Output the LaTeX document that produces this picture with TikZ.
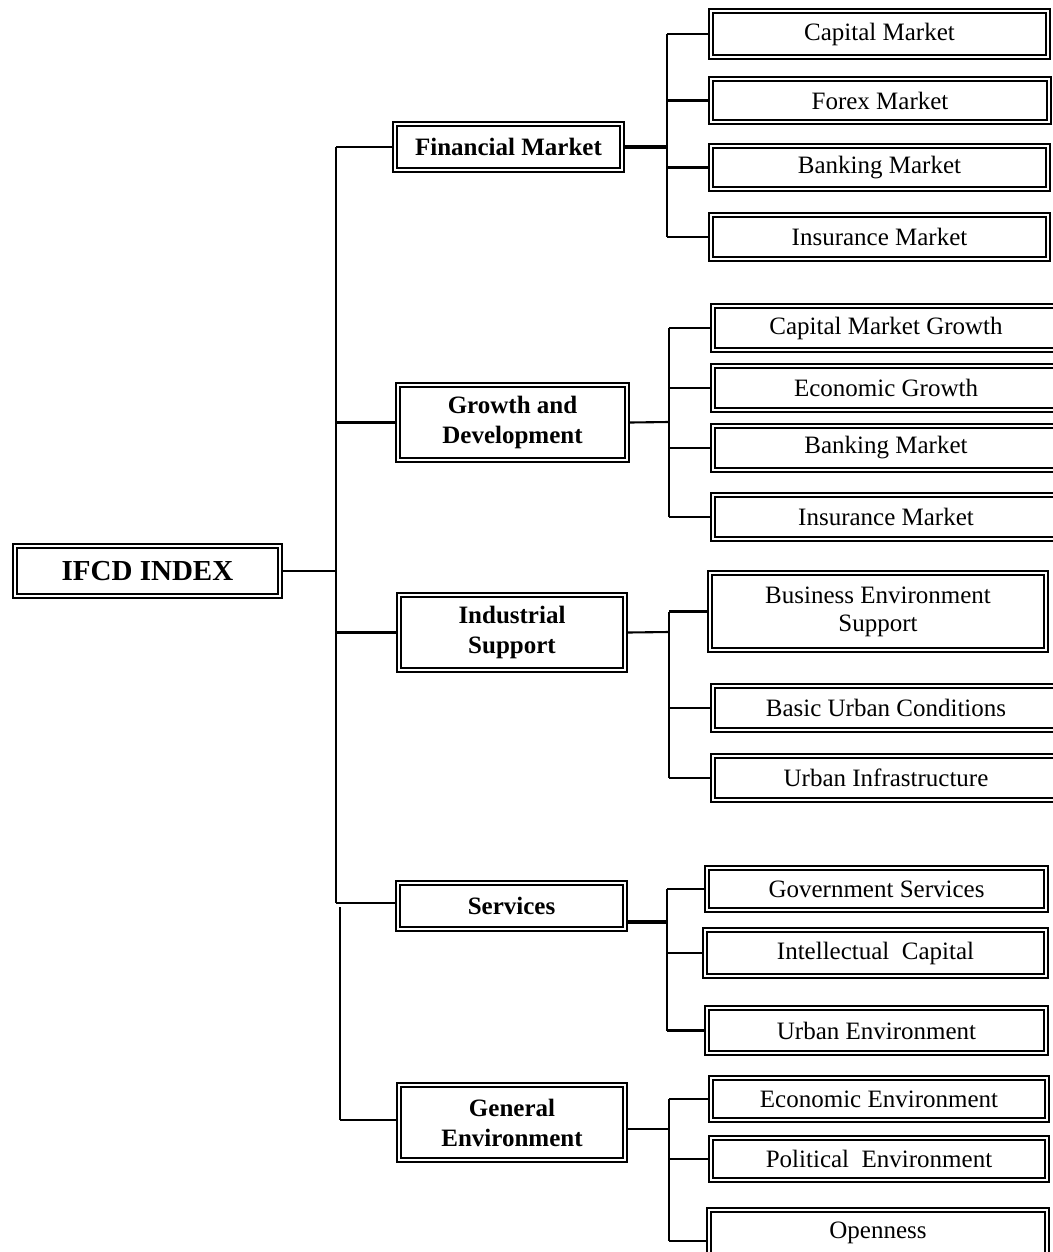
\documentclass[tikz,border=0pt]{standalone}
\usepackage{fontspec}
\setmainfont{Liberation Serif}
% boxed node given by its outer corners (x1,y1) and (x2,y2)
\newcommand{\dnode}[7]{%
  \node[#1, minimum width={(#5-#3)*0.5pt-1.2pt}, minimum height={(#6-#4)*0.5pt-1.2pt}]
    (#2) at ({(#3+#5)/2},{(#4+#6)/2}) {#7};}
\begin{document}
\begin{tikzpicture}[x=0.5pt,y=-0.5pt,
  dbox/.style={draw, line width=1.2pt, inner sep=0pt, align=center,
    path picture={\draw[line width=0.6pt]
      ([shift={(1.9pt,1.9pt)}]path picture bounding box.south west) rectangle
      ([shift={(-1.9pt,-1.9pt)}]path picture bounding box.north east);}},
  rootbox/.style={dbox, font=\fontsize{14.5}{17}\selectfont\bfseries},
  catbox/.style={dbox, font=\fontsize{12.5}{15}\selectfont\bfseries},
  itembox/.style={dbox, font=\fontsize{12.5}{14}\selectfont},
  link/.style={line width=1.05pt},
  heavy/.style={line width=1.6pt},
]
\useasboundingbox (0,0) rectangle (1053,1252);
\begin{scope}
\clip (0,0) rectangle (1053,1252);

% root and categories
\dnode{rootbox}{root}{12}{543}{283}{599}{IFCD INDEX}
\dnode{catbox}{fin}{392}{121}{625}{173}{Financial Market}
\dnode{catbox}{gro}{395}{382}{630}{463}{Growth and\\Development}
\dnode{catbox}{ind}{396}{592}{628}{673}{Industrial\\Support}
\dnode{catbox}{ser}{395}{880}{628}{932}{Services}
\dnode{catbox}{gen}{396}{1082}{628}{1163}{General\\Environment}

% financial market items
\dnode{itembox}{f1}{708}{8}{1051}{60}{Capital Market}
\dnode{itembox}{f2}{708}{76}{1052}{125}{Forex Market}
\dnode{itembox}{f3}{708}{143}{1051}{192}{Banking Market}
\dnode{itembox}{f4}{708}{212}{1051}{262}{Insurance Market}

% growth and development items
\dnode{itembox}{g1}{710}{303}{1062}{353}{Capital Market Growth}
\dnode{itembox}{g2}{710}{363}{1062}{413}{Economic Growth}
\dnode{itembox}{g3}{710}{423}{1062}{473}{Banking Market}
\dnode{itembox}{g4}{710}{492}{1062}{542}{Insurance Market}

% industrial support items
\dnode{itembox}{i1}{707}{570}{1049}{653}{Business Environment\\Support}
\dnode{itembox}{i2}{710}{683}{1062}{733}{Basic Urban Conditions}
\dnode{itembox}{i3}{710}{753}{1062}{803}{Urban Infrastructure}

% services items
\dnode{itembox}{s1}{704}{865}{1049}{913}{Government Services}
\dnode{itembox}{s2}{702}{927}{1049}{979}{Intellectual\ \ Capital}
\dnode{itembox}{s3}{704}{1005}{1049}{1056}{Urban Environment}

% general environment items
\dnode{itembox}{e1}{708}{1075}{1050}{1123}{Economic Environment}
\dnode{itembox}{e2}{708}{1135}{1050}{1183}{Political\ \ Environment}
\dnode{itembox}{e3}{706}{1207}{1050}{1258}{Openness}
\end{scope}

% trunk
\coordinate (t1) at (336,147);
\coordinate (t4) at (336,903);
\coordinate (t5a) at (340,907);
\coordinate (t5) at (340,1120);
\draw[link] (t1) -- (t4);
\draw[link] (t5a) -- (t5);
\draw[link] (root.east) -- (root.east -| t1);
\draw[link] (t1) -- (fin.west);
\draw[link] (gro.west -| t1) -- (gro.west);
\draw[link] (ind.west -| t1) -- (ind.west);
\draw[link] (t4) -- (ser.west |- t4);
\draw[link] (t5) -- (gen.west |- t5);

% branch junctions
\coordinate (bf) at (667,147);
\coordinate (bg) at (669,422);
\coordinate (bi) at (669,632);
\coordinate (bs) at (667,922);
\coordinate (be) at (669,1129);

% financial market branch
\draw[heavy] (fin.east) -- (bf);
\draw[link] (bf |- f1.west) -- (bf |- f4.west);
\foreach \c in {f1,f2,f3,f4} \draw[link] (bf |- \c.west) -- (\c.west);

% growth branch
\draw[link] (gro.east) -- (bg);
\draw[link] (bg |- g1.west) -- (bg |- g4.west);
\foreach \c in {g1,g2,g3,g4} \draw[link] (bg |- \c.west) -- (\c.west);

% industrial branch
\draw[link] (ind.east) -- (bi);
\draw[link] (bi |- i1.west) -- (bi |- i3.west);
\foreach \c in {i1,i2,i3} \draw[link] (bi |- \c.west) -- (\c.west);

% services branch
\draw[heavy] (ser.east |- bs) -- (bs);
\draw[link] (bs |- s1.west) -- (bs |- s3.west);
\foreach \c in {s1,s2,s3} \draw[link] (bs |- \c.west) -- (\c.west);

% general environment branch
\draw[link] (gen.east |- be) -- (be);
\draw[link] (be |- e1.west) -- (669,1241);
\foreach \c in {e1,e2} \draw[link] (be |- \c.west) -- (\c.west);
\coordinate (e3in) at (706,1241);
\draw[link] (669,1241) -- (e3in);
\end{tikzpicture}
\end{document}
